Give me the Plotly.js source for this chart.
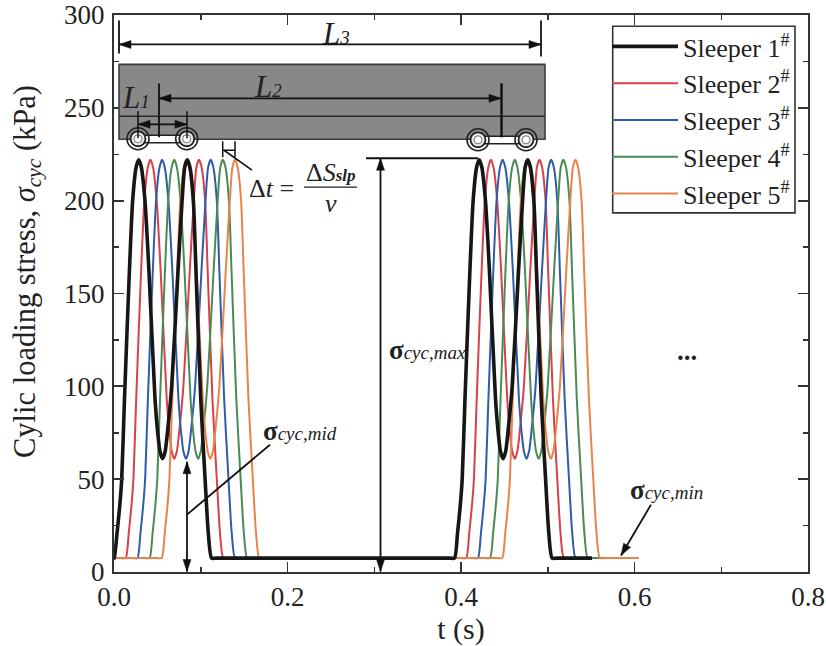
<!DOCTYPE html>
<html><head><meta charset="utf-8">
<script src="https://cdn.plot.ly/plotly-3.0.1.min.js"></script>
<style>html,body{margin:0;padding:0;background:#fff}</style></head>
<body><div id="chart" style="width:826px;height:646px"></div>
<script>
const seriesNames = ['Sleeper 1<sup>#</sup>','Sleeper 2<sup>#</sup>','Sleeper 3<sup>#</sup>','Sleeper 4<sup>#</sup>','Sleeper 5<sup>#</sup>'];
const seriesColors = ['#161616','#d8404a','#2f5ca8','#4a8a55','#e8834a'];
const pulseStress = [7.5,21,35,50,92,157,200,218,222,218,200,162,93,75,65,61,65,78,100,162,200,218,222,218,200,162,93,50,21,7.5];
const stress = [7.5,7.5].concat(pulseStress, [7.5,7.5], pulseStress, [7.5,7.5]);
const tSleeper1 = [0,.0002,
 .0005,.0035,.0065,.0089,.012,.0173,.0215,.0255,.0285,.0315,.0357,.0403,.0473,.0504,.053,.056,.059,.0622,.0665,.0738,.0785,.0815,.0845,.0875,.0915,.0945,.100,.105,.1087,.1125,
 .1185,.3865,
 .3925,.396,.399,.4014,.4045,.4098,.414,.418,.421,.424,.4282,.4328,.4398,.4429,.4455,.4485,.4515,.4547,.459,.4663,.471,.474,.477,.48,.484,.487,.4925,.4975,.5012,.505,
 .511,.551];
const tSleeper2 = [0,.0075,
 .0135,.017,.02,.0224,.0255,.0308,.035,.039,.042,.045,.0492,.0538,.0608,.0639,.0665,.0695,.0725,.0757,.08,.0873,.092,.095,.098,.101,.105,.108,.1135,.1185,.1222,.126,
 .132,.4,
 .406,.4095,.4125,.4149,.418,.4233,.4275,.4315,.4345,.4375,.4417,.4463,.4533,.4564,.459,.462,.465,.4682,.4725,.4798,.4845,.4875,.4905,.4935,.4975,.5005,.506,.511,.5147,.5185,
 .5245,.564];
const tSleeper3 = [0,.021,
 .027,.0305,.0335,.0359,.039,.0443,.0485,.0525,.0555,.0585,.0627,.0673,.0743,.0774,.08,.083,.086,.0892,.0935,.1008,.1055,.1085,.1115,.1145,.1185,.1215,.127,.132,.1357,.1395,
 .1455,.4135,
 .4195,.423,.426,.4284,.4315,.4368,.441,.445,.448,.451,.4552,.4598,.4668,.4699,.4725,.4755,.4785,.4817,.486,.4933,.498,.501,.504,.507,.511,.514,.5195,.5245,.5282,.532,
 .538,.578];
const tSleeper4 = [0,.035,
 .041,.0445,.0475,.0499,.053,.0583,.0625,.0665,.0695,.0725,.0767,.0813,.0883,.0914,.094,.097,.1,.1032,.1075,.1148,.1195,.1225,.1255,.1285,.1325,.1355,.141,.146,.1497,.1535,
 .1595,.4275,
 .4335,.437,.44,.4424,.4455,.4508,.455,.459,.462,.465,.4692,.4738,.4808,.4839,.4865,.4895,.4925,.4957,.5,.5073,.512,.515,.518,.521,.525,.528,.5335,.5385,.5422,.546,
 .552,.591];
const tSleeper5 = [0,.049,
 .055,.0585,.0615,.0639,.067,.0723,.0765,.0805,.0835,.0865,.0907,.0953,.1023,.1054,.108,.111,.114,.1172,.1215,.1288,.1335,.1365,.1395,.1425,.1465,.1495,.155,.16,.1637,.1675,
 .1735,.4415,
 .4475,.451,.454,.4564,.4595,.4648,.469,.473,.476,.479,.4832,.4878,.4948,.4979,.5005,.5035,.5065,.5097,.514,.5213,.526,.529,.532,.535,.539,.542,.5475,.5525,.5562,.56,
 .566,.605];
const seriesT = [tSleeper1,tSleeper2,tSleeper3,tSleeper4,tSleeper5];

const L=114, R=808, T=14.5, B=572.5, W=826, H=646;
const px = x => (x-L)/(R-L), py = y => (B-y)/(B-T);
const FONT = 'Liberation Serif, Times New Roman, serif', INK='#222';

function mk(i){ return {x:seriesT[i], y:stress, type:'scatter', mode:'lines', name:seriesNames[i],
  legendrank:i+1,
  line:{color:seriesColors[i], width:i===0?3.6:2, shape:'spline', smoothing:0.6}}; }
const traces = [1,2,3,4,0].map(mk);

const shapes = [];
const seg=(x0,y0,x1,y1,w=1.8,c='#111')=>shapes.push({type:'line',xref:'paper',yref:'paper',x0:px(x0),y0:py(y0),x1:px(x1),y1:py(y1),line:{color:c,width:w},layer:'above'});
const circ=(cx,cy,r,fill,w=1.6)=>shapes.push({type:'circle',xref:'paper',yref:'paper',x0:px(cx-r),x1:px(cx+r),y0:py(cy+r),y1:py(cy-r),fillcolor:fill,line:{color:'#222',width:w},layer:'above'});
const head=(x,y,dx,dy,len=12,hw=4)=>{
  const bx=x-dx*len, by=y-dy*len, nx=-dy*hw, ny=dx*hw;
  shapes.push({type:'path',xref:'paper',yref:'paper',layer:'above',fillcolor:'#111',line:{color:'#111',width:0.5},
    path:`M ${px(x)} ${py(y)} L ${px(bx+nx)} ${py(by+ny)} L ${px(bx-nx)} ${py(by-ny)} Z`});
};
const arrow=(x0,y0,x1,y1,both,w=1.8)=>{
  seg(x0,y0,x1,y1,w);
  const d=Math.hypot(x1-x0,y1-y0), ux=(x1-x0)/d, uy=(y1-y0)/d;
  head(x1,y1,ux,uy);
  if(both) head(x0,y0,-ux,-uy);
};
shapes.push({type:'rect',xref:'paper',yref:'paper',x0:px(612.7),x1:px(795),y0:py(212.7),y1:py(25.7),fillcolor:'#fff',line:{color:'#333',width:1.6},layer:'above'});
shapes.push({type:'rect',xref:'paper',yref:'paper',x0:px(119),x1:px(545),y0:py(139),y1:py(64),fillcolor:'#878988',line:{color:'#3c3c3c',width:1.6},layer:'above'});
seg(119,116,545,116,1.5,'#2a2a2a');
[[138,186.7],[478,526]].forEach(([a,b])=>{
  const yc = a<200?138.5:139.5;
  shapes.push({type:'rect',xref:'paper',yref:'paper',x0:px(a),x1:px(b),y0:py(yc+4),y1:py(yc-3.5),fillcolor:'#fff',line:{color:'#222',width:1.4},layer:'above'});
  [a,b].forEach(c=>{circ(c,yc,11,'rgba(0,0,0,0)',1.6);circ(c,yc,7.5,'#e8e8e8',1.8);circ(c,yc,4,'#fff',0.6);});
});
seg(119,20,119,53,1.8); seg(541,20,541,56,1.8);
seg(159,83,159,137,1.8); seg(501.5,83,501.5,137,2.4);
seg(138,111,138,138,1.5); seg(187,111,187,138,1.5);
seg(222.7,141,222.7,157,1.5); seg(235,141,235,157,1.5);
seg(224,150,252,170,1.6);
seg(222.7,150,235,150,1.5);
seg(366,158,478,158,1.8);
seg(304,187,357,187,1.2,'#222');
seg(187,515,270,445,1.8);
arrow(119,44,541,44,true);
arrow(159,98,501,98,true);
arrow(138,124,187,124,true);
arrow(380.5,158,380.5,572,true);
arrow(187,462,187,572,true);
arrow(651,505,621,556,false);

const sig=(s)=>`<b>σ</b><span style="font-size:19px"><i>${s}</i></span>`;
const ann=[];
const txt=(x,y,text,size=23,extra={})=>ann.push(Object.assign({xref:'paper',yref:'paper',x:px(x),y:py(y),text,showarrow:false,
  font:{family:FONT,size,color:INK},xanchor:'center',yanchor:'middle'},extra));
txt(336,33,'<i>L<span style="font-size:19px">3</span></i>',31);
txt(268,86,'<i>L<span style="font-size:19px">2</span></i>',31);
txt(136,97,'<i>L<span style="font-size:19px">1</span></i>',31);
txt(271,188,'Δ<i>t</i> =',26);
txt(331,172,'Δ<i>S</i><b><i><span style="font-size:17px">slp</span></i></b>',26);
txt(331,203,'<i>v</i>',26);
txt(427,350,sig('cyc,max'),27);
txt(300,431,sig('cyc,mid'),27);
txt(666,490,sig('cyc,min'),27);
txt(687,351,'<b>...</b>',27);
txt(27,272,'Cylic loading stress, <i>σ<sub>cyc</sub></i> (kPa)',30.5,{textangle:-90});

const axisCommon={showgrid:false,zeroline:false,showline:true,linecolor:'#333',linewidth:2,mirror:'ticks',ticks:'inside',
  ticklen:10,tickwidth:1.8,tickcolor:'#333',tickfont:{family:FONT,size:27,color:INK}};
Plotly.newPlot('chart',traces,{
  width:W,height:H,paper_bgcolor:'#fff',plot_bgcolor:'#fff',
  margin:{l:L,r:W-R,t:T,b:H-B,pad:0},
  font:{family:FONT,color:INK},
  showlegend:true,
  xaxis:Object.assign({},axisCommon,{range:[0,0.8],tickvals:[0,0.2,0.4,0.6,0.8],ticktext:['0.0','0.2','0.4','0.6','0.8'],
    minor:{dtick:0.1,ticks:'inside',ticklen:5,tickwidth:1.5,tickcolor:'#333',showgrid:false},
    title:{text:'t (s)',font:{family:FONT,size:30,color:INK},standoff:0}}),
  yaxis:Object.assign({},axisCommon,{range:[0,300],tickvals:[0,50,100,150,200,250,300],ticklabelstandoff:2,
    minor:{dtick:25,ticks:'inside',ticklen:5,tickwidth:1.5,tickcolor:'#333',showgrid:false}}),
  legend:{x:px(607),y:py(22.5),xanchor:'left',yanchor:'top',bgcolor:'rgba(0,0,0,0)',borderwidth:0,
    font:{family:FONT,size:26,color:INK},itemwidth:66,itemclick:false},
  shapes,annotations:ann
},{displayModeBar:false,staticPlot:true});
</script></body></html>
